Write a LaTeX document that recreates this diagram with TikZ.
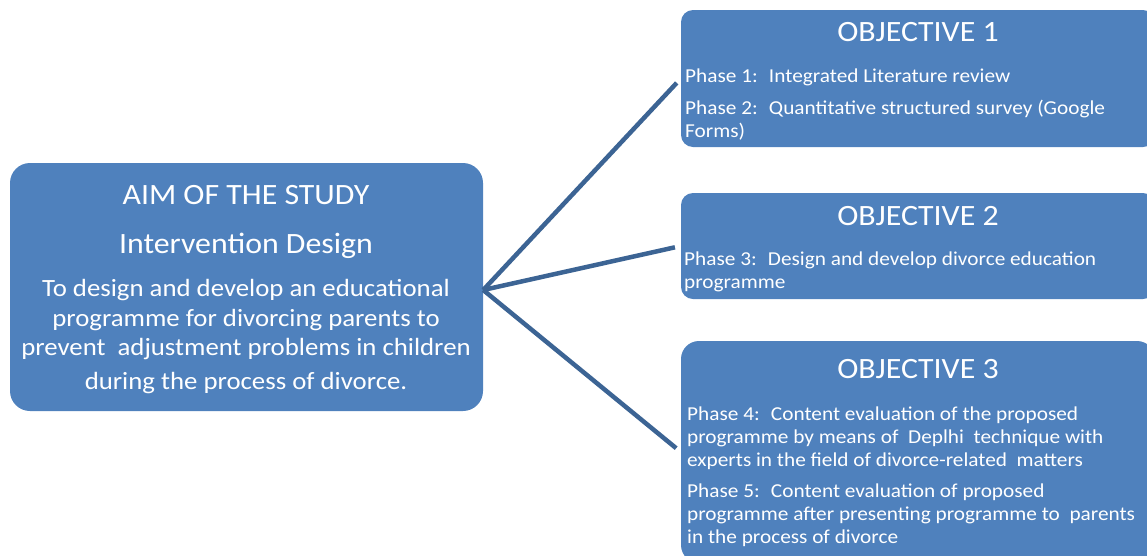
\documentclass[tikz,border=0pt]{standalone}
\usepackage{fontspec}
\setmainfont{Carlito}[FakeStretch=1.08]
\usetikzlibrary{positioning}
\definecolor{boxblue}{HTML}{4F81BD}
\definecolor{linkblue}{HTML}{3C6494}
\tikzset{
	box/.style = {
		rectangle, fill=boxblue, rounded corners=#1, inner sep=0pt, minimum width=474pt
	},
	box/.default = 12pt
}
\tikzset{
	heading/.style = {
		text=white, inner sep=0pt, anchor=base, font=\fontsize{29.5}{35}\selectfont
	}
}
\tikzset{
	aimtext/.style = {
		text=white, inner sep=0pt, anchor=base, align=center, font=\fontsize{24.8}{29.5}\selectfont
	}
}
\tikzset{
	phase/.style = {
		text=white, inner sep=0pt, anchor=base west, align=left, font=\fontsize{19.7}{23}\selectfont
	}
}
\tikzset{
	link/.style = {
		draw=linkblue, line width=4.5pt, shorten >=6pt
	}
}

\begin{document}
\begin{tikzpicture}[x=1pt, y=-1pt]
	\useasboundingbox (0,0) rectangle (1147,555);
	\clip (0,0) rectangle (1147,555);

	% aim of the study
	\node[box=20pt, minimum width=473pt, minimum height=248pt](Aim) at (246.5,287){};
	\node[heading](AimTitle) at (246,204){AIM OF THE STUDY};
	\node[heading](AimDesign) at (246,253){Intervention Design};
	% multi-line nodes sit on their last line
	\node[aimtext](AimText) at (246,389){To design and develop an educational\\
		programme for divorcing parents to\\
		prevent~ adjustment problems in children\\[4pt]
		during the process of divorce.};

	% objectives
	\node[box, minimum height=137pt](Objective1) at (918,78.5){};
	\node[heading](ObjTitle1) at (918,41){OBJECTIVE 1};
	\node[phase](Phase1) at (685,82){Phase 1:~ Integrated Literature review};
	\node[phase](Phase2) at (685,137){Phase 2:~ Quantitative structured survey (Google\\
		Forms)};

	\node[box, minimum height=106pt](Objective2) at (918,246){};
	\node[heading](ObjTitle2) at (918,225){OBJECTIVE 2};
	\node[phase](Phase3) at (684,288){Phase 3:~ Design and develop divorce education\\
		programme};

	\node[box=18pt, minimum height=222pt](Objective3) at (918,452){};
	\node[heading](ObjTitle3) at (918,378){OBJECTIVE 3};
	\node[phase](Phase4) at (687,466){Phase 4:~ Content evaluation of the proposed\\
		programme by means of~ Deplhi~ technique with\\
		experts in the field of divorce-related~ matters};
	\node[phase](Phase5) at (687,543){Phase 5:~ Content evaluation of proposed\\
		programme after presenting programme to~ parents\\
		in the process of divorce};

	\coordinate (Hub) at ([yshift=-3pt]Aim.east);
	\draw[link] (Hub) -- (Objective1.west);
	\draw[link] (Hub) -- (Objective2.west);
	\draw[link] (Hub) -- (Objective3.west);
\end{tikzpicture}
\end{document}
